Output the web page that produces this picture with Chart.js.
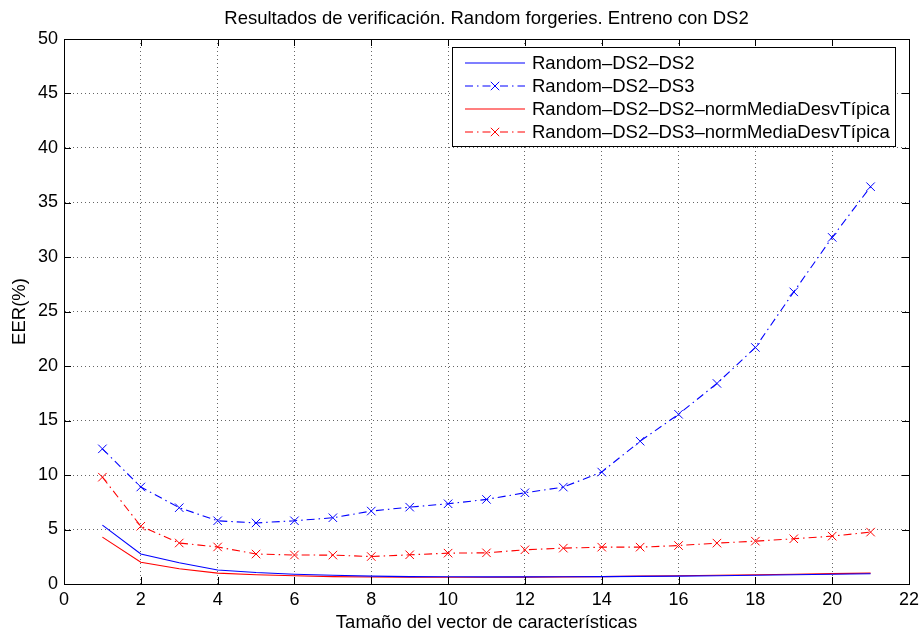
<!DOCTYPE html>
<html>
<head>
<meta charset="utf-8">
<script src="https://cdn.jsdelivr.net/npm/chart.js@4/dist/chart.umd.min.js"></script>
<style>
  html, body { margin: 0; padding: 0; background: #fff; }
  #wrap { width: 920px; height: 635px; }
</style>
</head>
<body>
<div id="wrap"><canvas id="chart-eer"></canvas></div>
<script>
// datos
const tamanos = [1, 2, 3, 4, 5, 6, 7, 8, 9, 10, 11, 12, 13, 14, 15, 16, 17, 18, 19, 20, 21];
const eerDS2 = [5.4, 2.75, 1.95, 1.28, 1.05, 0.9, 0.8, 0.72, 0.68, 0.66, 0.65, 0.65, 0.66, 0.68, 0.7, 0.72, 0.76, 0.8, 0.85, 0.9, 0.94];
const eerDS3 = [12.4, 8.9, 7.0, 5.8, 5.6, 5.8, 6.08, 6.69, 7.05, 7.36, 7.76, 8.37, 8.89, 10.27, 13.1, 15.57, 18.4, 21.7, 26.8, 31.8, 36.45];
const eerDS2norm = [4.3, 2.0, 1.4, 1.0, 0.85, 0.75, 0.68, 0.64, 0.62, 0.62, 0.62, 0.63, 0.65, 0.68, 0.72, 0.76, 0.8, 0.85, 0.9, 0.95, 1.0];
const eerDS3norm = [9.8, 5.3, 3.76, 3.4, 2.75, 2.66, 2.65, 2.52, 2.68, 2.83, 2.86, 3.14, 3.29, 3.38, 3.38, 3.53, 3.75, 3.93, 4.15, 4.39, 4.76];
const xTicks = [0, 2, 4, 6, 8, 10, 12, 14, 16, 18, 20, 22];
const yTicks = [0, 5, 10, 15, 20, 25, 30, 35, 40, 45, 50];
const etiquetas = [
  'Random–DS2–DS2',
  'Random–DS2–DS3',
  'Random–DS2–DS2–normMediaDesvTípica',
  'Random–DS2–DS3–normMediaDesvTípica'
];
const colores = ['#0000ff', '#0000ff', '#ff0000', '#ff0000'];
const conMarca = [false, true, false, true];

const FONT = '"Liberation Sans", Arial, Helvetica, sans-serif';
const dashDot = [8, 4, 1.5, 4];

function toXY(ys) {
  return tamanos.map((x, i) => ({ x: x, y: ys[i] }));
}

// marco completo y ticks hacia dentro (estilo matlab)
const frameTicks = {
  id: 'frameTicks',
  afterDraw(chart) {
    const { ctx, chartArea: a } = chart;
    const xs = chart.scales.x, ys = chart.scales.y;
    ctx.save();
    ctx.strokeStyle = '#000';
    ctx.lineWidth = 1;
    ctx.setLineDash([]);
    ctx.strokeRect(Math.round(a.left) + 0.5, Math.round(a.top) + 0.5, Math.round(a.right - a.left), Math.round(a.bottom - a.top));
    ctx.beginPath();
    xTicks.forEach(v => {
      const px = Math.round(xs.getPixelForValue(v)) + 0.5;
      ctx.moveTo(px, a.bottom); ctx.lineTo(px, a.bottom - 7);
      ctx.moveTo(px, a.top); ctx.lineTo(px, a.top + 7);
    });
    yTicks.forEach(v => {
      const py = Math.round(ys.getPixelForValue(v)) + 0.5;
      ctx.moveTo(a.left, py); ctx.lineTo(a.left + 7, py);
      ctx.moveTo(a.right, py); ctx.lineTo(a.right - 7, py);
    });
    ctx.stroke();
    ctx.restore();
  }
};

// leyenda con caja
const legendBox = {
  id: 'legendBox',
  afterDraw(chart) {
    const { ctx, chartArea: a } = chart;
    const w = 443, h = 99;
    const x0 = Math.round(a.right - 14 - w), y0 = Math.round(a.top + 8);
    ctx.save();
    ctx.fillStyle = '#fff';
    ctx.fillRect(x0, y0, w, h);
    ctx.strokeStyle = '#000';
    ctx.lineWidth = 1;
    ctx.setLineDash([]);
    ctx.strokeRect(x0 + 0.5, y0 + 0.5, w, h);
    etiquetas.forEach((txt, i) => {
      const y = y0 + 16 + i * 23;
      ctx.strokeStyle = colores[i];
      ctx.lineWidth = 1.2;
      ctx.setLineDash(conMarca[i] ? dashDot : []);
      ctx.beginPath();
      ctx.moveTo(x0 + 13, y);
      ctx.lineTo(x0 + 73, y);
      ctx.stroke();
      ctx.setLineDash([]);
      if (conMarca[i]) {
        const r = 4.2;
        const cx = x0 + 43;
        ctx.lineWidth = 1;
        ctx.beginPath();
        ctx.moveTo(cx - r, y - r); ctx.lineTo(cx + r, y + r);
        ctx.moveTo(cx - r, y + r); ctx.lineTo(cx + r, y - r);
        ctx.stroke();
      }
      ctx.fillStyle = '#000';
      ctx.font = '18.5px ' + FONT;
      ctx.textBaseline = 'middle';
      ctx.fillText(txt, x0 + 80, y + 1);
    });
    ctx.restore();
  }
};

const chartEer = document.getElementById('chart-eer');

new Chart(chartEer, {
  type: 'line',
  data: {
    datasets: [
      {
        label: etiquetas[0],
        data: toXY(eerDS2),
        borderColor: colores[0],
        borderWidth: 1.1,
        pointRadius: 0
      },
      {
        label: etiquetas[1],
        data: toXY(eerDS3),
        borderColor: colores[1],
        borderWidth: 1.1,
        borderDash: dashDot,
        pointStyle: 'crossRot',
        pointRadius: 6,
        pointBorderWidth: 1,
        pointBorderColor: colores[1]
      },
      {
        label: etiquetas[2],
        data: toXY(eerDS2norm),
        borderColor: colores[2],
        borderWidth: 1.1,
        pointRadius: 0
      },
      {
        label: etiquetas[3],
        data: toXY(eerDS3norm),
        borderColor: colores[3],
        borderWidth: 1.1,
        borderDash: dashDot,
        pointStyle: 'crossRot',
        pointRadius: 6,
        pointBorderWidth: 1,
        pointBorderColor: colores[3]
      }
    ]
  },
  options: {
    responsive: true,
    maintainAspectRatio: false,
    animation: false,
    events: [],
    layout: { padding: { left: 0, right: 11, top: 0, bottom: 0 } },
    elements: { line: { tension: 0, fill: false } },
    plugins: {
      legend: { display: false },
      tooltip: { enabled: false },
      title: {
        display: true,
        fullSize: false,
        text: 'Resultados de verificación. Random forgeries. Entreno con DS2',
        color: '#000',
        font: { family: FONT, size: 18.5, weight: 'normal' },
        padding: { top: 8, bottom: 8.8 }
      }
    },
    scales: {
      x: {
        type: 'linear',
        min: 0,
        max: 22,
        afterFit(scale) {
          scale.height = 51;
          scale.paddingLeft = 0;
          scale.paddingRight = 0;
        },
        afterBuildTicks(scale) { scale.ticks = xTicks.map(v => ({ value: v })); },
        ticks: {
          color: '#000',
          font: { family: FONT, size: 18 },
          padding: 5,
          maxRotation: 0
        },
        grid: { color: 'rgba(0,0,0,0.6)', drawTicks: false, lineWidth: 1 },
        border: { display: true, color: '#000', width: 1, dash: [1, 3] },
        title: {
          display: true,
          text: 'Tamaño del vector de características',
          color: '#000',
          font: { family: FONT, size: 18.5 },
          padding: { top: 0, bottom: 1 }
        }
      },
      y: {
        min: 0,
        max: 50,
        afterFit(scale) { scale.width = 64; },
        afterBuildTicks(scale) { scale.ticks = yTicks.map(v => ({ value: v })); },
        ticks: {
          color: '#000',
          font: { family: FONT, size: 18 },
          padding: 6
        },
        grid: { color: 'rgba(0,0,0,0.6)', drawTicks: false, lineWidth: 1 },
        border: { display: true, color: '#000', width: 1, dash: [1, 3] },
        title: {
          display: true,
          text: 'EER(%)',
          color: '#000',
          font: { family: FONT, size: 18.5 },
          padding: { top: 9, bottom: 0 }
        }
      }
    }
  },
  plugins: [frameTicks, legendBox]
});
</script>
</body>
</html>
